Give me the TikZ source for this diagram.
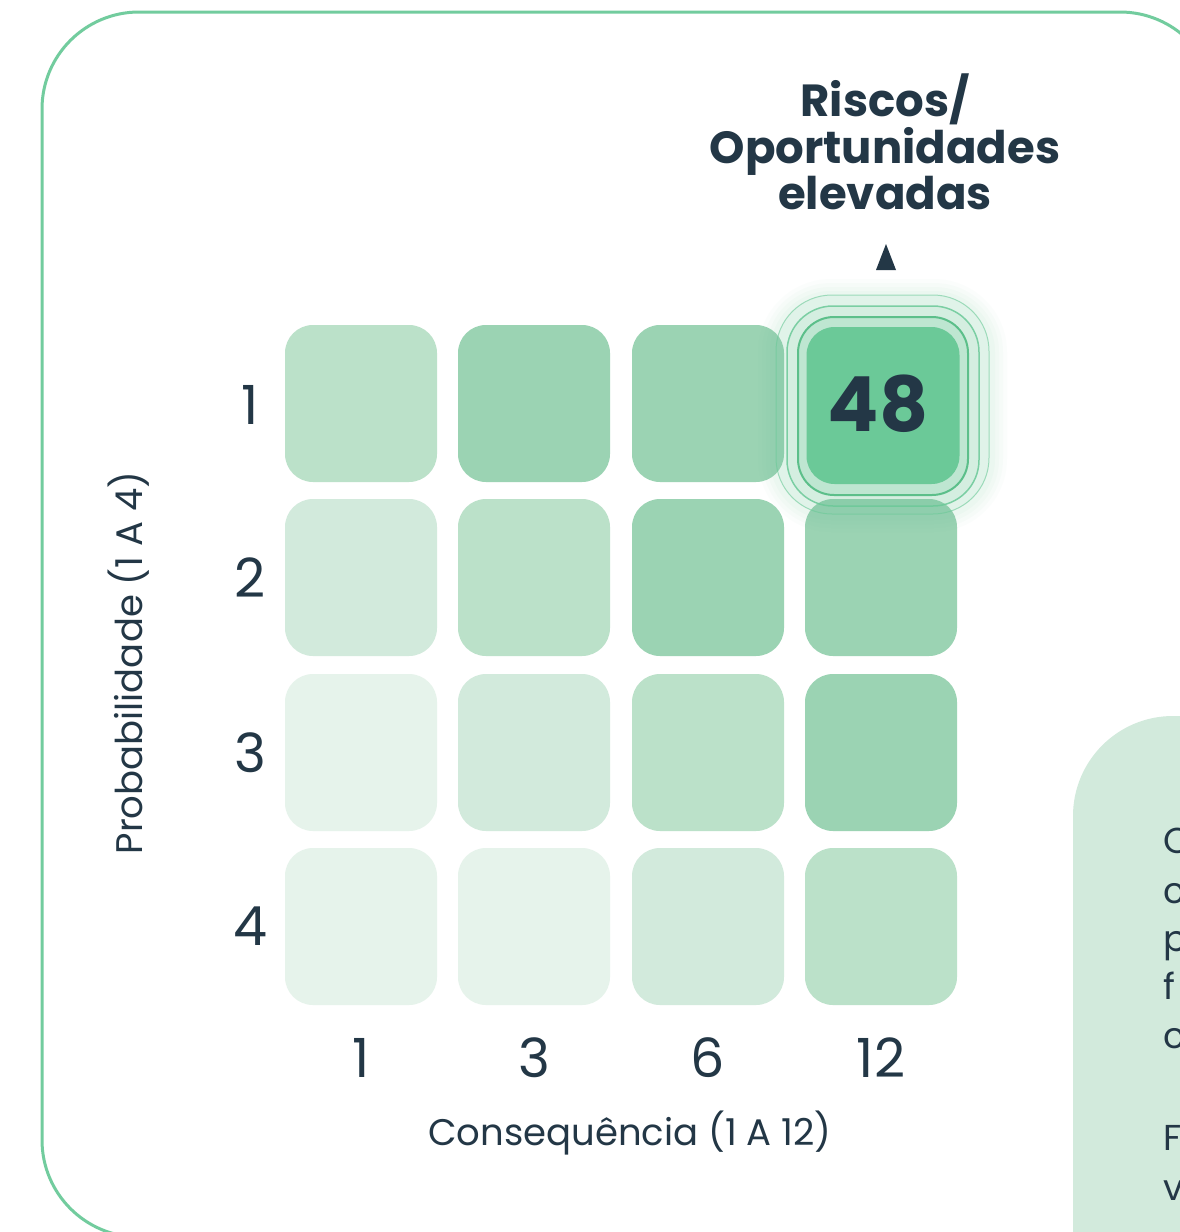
\documentclass[tikz,border=0pt]{standalone}
\usepackage{fontspec}
\setmainfont{Poppins}
\definecolor{ink}{HTML}{233746}
\definecolor{framec}{HTML}{72CC9E}
\definecolor{gA}{HTML}{E6F3EB}
\definecolor{gB}{HTML}{D2EADC}
\definecolor{gC}{HTML}{BBE1C9}
\definecolor{gD}{HTML}{9BD3B3}
\definecolor{gE}{HTML}{6BC998}
\definecolor{ringA}{HTML}{5CBF8A}
\begin{document}
\begin{tikzpicture}[x=1pt,y=-1pt,
  cell/.style={minimum width=152pt,minimum height=157pt,inner sep=0pt,rounded corners=28pt,draw=none},
  axnum/.style={text=ink,font=\fontsize{54}{60}\selectfont,inner sep=0pt,anchor=base},
  axlab/.style={text=ink,font=\fontsize{37}{44}\selectfont,inner sep=0pt,anchor=base},
  ttl/.style={text=ink,font=\fontsize{45}{47}\selectfont\bfseries,inner sep=0pt,anchor=base},
  side/.style={text=ink,font=\fontsize{36}{44}\selectfont,inner sep=0pt,anchor=base west}]
\useasboundingbox (0,0) rectangle (1180,1232);
\clip (0,0) rectangle (1180,1232);
\fill[white] (0,0) rectangle (1180,1232);
% outer frame
\draw[framec,line width=3pt,rounded corners=97pt] (42,12) rectangle (1217,1237);
% right panel
\fill[gB,rounded corners=100pt] (1073,1400) -- (1073,716) -- (1300,716) -- (1300,1400) -- cycle;
\node[side] (s1) at (1163,853) {C};
\node[side] (s2) at (1163,903) {c};
\node[side] (s3) at (1163,951) {p};
\node[side] (s4) at (1163,999) {f};
\node[side] (s5) at (1163,1048) {c};
\node[side] (s6) at (1163,1150) {F};
\node[side] (s7) at (1163,1200) {v};
% grid cells
\node[cell,fill=gC] (c11) at (361,403.5) {};
\node[cell,fill=gD] (c12) at (534,403.5) {};
\node[cell,fill=gD] (c13) at (708,403.5) {};
\node[cell,fill=gB] (c21) at (361,577.5) {};
\node[cell,fill=gC] (c22) at (534,577.5) {};
\node[cell,fill=gD] (c23) at (708,577.5) {};
\node[cell,fill=gD] (c24) at (881,577.5) {};
\node[cell,fill=gA] (c31) at (361,752.5) {};
\node[cell,fill=gB] (c32) at (534,752.5) {};
\node[cell,fill=gC] (c33) at (708,752.5) {};
\node[cell,fill=gD] (c34) at (881,752.5) {};
\node[cell,fill=gA] (c41) at (361,926.5) {};
\node[cell,fill=gA] (c42) at (534,926.5) {};
\node[cell,fill=gB] (c43) at (708,926.5) {};
\node[cell,fill=gC] (c44) at (881,926.5) {};
% highlighted cell glow and rings
\foreach \o/\op in {48/0.025,44/0.03,40/0.035,36/0.04}{
  \fill[gE,opacity=\op,rounded corners=\o pt+25pt] (806-\o,327-\o) rectangle (959+\o,484+\o);
}
\fill[gE,opacity=0.08,rounded corners=56pt] (776,295) rectangle (989,514);
\draw[gE,opacity=0.6,line width=1pt,rounded corners=56pt] (776,295) rectangle (989,514);
\fill[gE,opacity=0.10,rounded corners=46pt] (787,306) rectangle (979,506);
\draw[gE,opacity=0.85,line width=1.5pt,rounded corners=46pt] (787,306) rectangle (979,506);
\fill[white,opacity=0.35,rounded corners=36pt] (798,317) rectangle (968,495);
\fill[gE,opacity=0.3,rounded corners=36pt] (798,317) rectangle (968,495);
\draw[ringA,line width=2pt,rounded corners=36pt] (798,317) rectangle (968,495);
\node[cell,fill=gE,minimum width=153pt] (c14) at (883,405.5) {};
\node[text=ink,font=\fontsize{76}{80}\selectfont\bfseries,inner sep=0pt] (v48) at (878,404) {48};
% title and marker
\node[ttl] (t1) at (885,116) {Riscos/};
\node[ttl] (t2) at (885,163) {Oportunidades};
\node[ttl] (t3) at (885,209) {elevadas};
\fill[ink] (876,270) -- (896,270) -- (886,244) -- cycle;
% axis numbers
\node[axnum] (r1) at (250,424) {1};
\node[axnum] (r2) at (250,597) {2};
\node[axnum] (r3) at (250,772) {3};
\node[axnum] (r4) at (250,945) {4};
\node[axnum] (k1) at (361,1077) {1};
\node[axnum] (k2) at (534,1077) {3};
\node[axnum] (k3) at (708,1077) {6};
\node[axnum] (k4) at (881,1077) {12};
% axis titles
\node[axlab] (xl) at (630,1145) {Consequência (1 A 12)};
\node[axlab,rotate=90] (yl) at (142,663) {Probabilidade (1 A 4)};
\end{tikzpicture}
\end{document}
